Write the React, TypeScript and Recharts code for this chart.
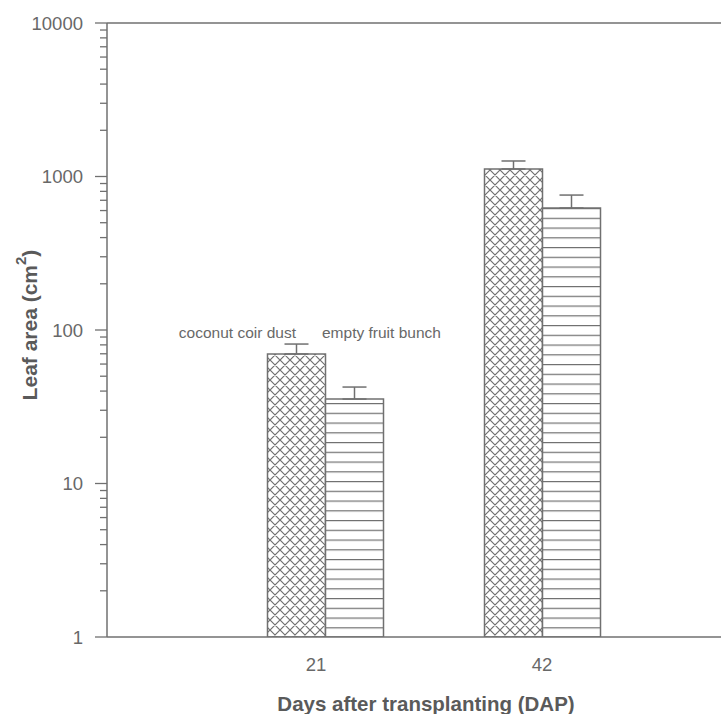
import React from "react";
import {
  BarChart,
  Bar,
  XAxis,
  YAxis,
  ErrorBar,
  ReferenceLine,
  ReferenceDot,
} from "recharts";

const categories = ["21", "42"];
const coconutCoirDust = [69.8, 1119];
const coconutCoirDustErr = [11.2, 143];
const emptyFruitBunch = [35.5, 623];
const emptyFruitBunchErr = [7, 134];

const majorTicks = [1, 10, 100, 1000, 10000];
const yTicks = [
  1, 2, 3, 4, 5, 6, 7, 8, 9,
  10, 20, 30, 40, 50, 60, 70, 80, 90,
  100, 200, 300, 400, 500, 600, 700, 800, 900,
  1000, 2000, 3000, 4000, 5000, 6000, 7000, 8000, 9000,
  10000,
];

const data = categories.map((c, i) => ({
  day: c,
  ccd: coconutCoirDust[i],
  ccdErr: [0, coconutCoirDustErr[i]],
  efb: emptyFruitBunch[i],
  efbErr: [0, emptyFruitBunchErr[i]],
}));

const GRAY = "#707070";
const TEXT = "#686868";
const FONT = "'Liberation Sans', Arial, sans-serif";

const YTick = (props: any) => {
  const { x, y, payload } = props;
  const v = payload.value;
  const major = majorTicks.includes(v);
  return (
    <g>
      <line x1={x - (major ? 12 : 7)} x2={x} y1={y} y2={y} stroke={GRAY} strokeWidth={1.3} />
      {major && (
        <text
          x={x - 24}
          y={y}
          textAnchor="end"
          dominantBaseline="central"
          fill={TEXT}
          fontSize={18.5}
          fontFamily={FONT}
        >
          {v}
        </text>
      )}
    </g>
  );
};

const XTick = (props: any) => {
  const { x, y, payload, index } = props;
  const shift = index === 0 ? -9 : 0;
  return (
    <text
      x={x + shift}
      y={y + 11}
      textAnchor="middle"
      dominantBaseline="central"
      fill={TEXT}
      fontSize={18.5}
      fontFamily={FONT}
    >
      {payload.value}
    </text>
  );
};

export default function App() {
  return (
    <div style={{ position: "absolute", left: 0, top: 0, width: 721, height: 714, background: "#fff" }}>
      <BarChart
        width={721}
        height={714}
        data={data}
        margin={{ top: 23, right: 0, bottom: 17, left: 0 }}
        barGap={0}
        barSize={58}
      >
        <defs>
          <pattern id="cross" patternUnits="userSpaceOnUse" width="10" height="10">
            <rect width="10" height="10" fill="#fff" />
            <path d="M0,0 L10,10 M10,0 L0,10 M-1,9 L1,11 M9,-1 L11,1 M-1,1 L1,-1 M9,11 L11,9" stroke={GRAY} strokeWidth={1.2} />
          </pattern>
          <pattern id="hlines" patternUnits="userSpaceOnUse" width="10" height="9.75" y="637">
            <rect width="10" height="9.75" fill="#fff" />
            <line x1="0" x2="10" y1="0.6" y2="0.6" stroke={GRAY} strokeWidth={1.2} />
          </pattern>
        </defs>
        <XAxis
          dataKey="day"
          height={60}
          padding={{ left: 109.5, right: 70.5 }}
          tickLine={false}
          axisLine={{ stroke: GRAY, strokeWidth: 1.5 }}
          tick={<XTick />}
          tickMargin={10}
          label={{
            content: () => (
              <text
                x={426}
                y={703}
                textAnchor="middle"
                dominantBaseline="central"
                fill="#5a5a5a"
                fontSize={20.5}
                fontWeight="bold"
                fontFamily={FONT}
              >
                Days after transplanting (DAP)
              </text>
            ),
          }}
        />
        <YAxis
          scale="log"
          domain={[1, 10000]}
          allowDataOverflow
          ticks={yTicks}
          interval={0}
          width={107}
          tickSize={0}
          tickMargin={0}
          tickLine={false}
          axisLine={{ stroke: GRAY, strokeWidth: 1.5 }}
          tick={<YTick />}
          label={{
            content: () => (
              <text
                x={29}
                y={325}
                transform="rotate(-90 29 325)"
                textAnchor="middle"
                dominantBaseline="central"
                fill="#5a5a5a"
                fontSize={21}
                fontWeight="bold"
                fontFamily={FONT}
              >
                Leaf area (cm
                <tspan baselineShift="super" fontSize={15}>2</tspan>
                )
              </text>
            ),
          }}
        />
        <ReferenceLine y={10000} stroke={GRAY} strokeWidth={1.5} />
        <Bar dataKey="ccd" fill="url(#cross)" stroke={GRAY} strokeWidth={1.5} isAnimationActive={false}>
          <ErrorBar dataKey="ccdErr" width={12} stroke={GRAY} strokeWidth={1.5} direction="y" />
        </Bar>
        <Bar dataKey="efb" fill="url(#hlines)" stroke={GRAY} strokeWidth={1.5} isAnimationActive={false}>
          <ErrorBar dataKey="efbErr" width={12} stroke={GRAY} strokeWidth={1.5} direction="y" />
        </Bar>
        <ReferenceDot
          x="21"
          y={100}
          r={0}
          fill="none"
          stroke="none"
          label={{
            content: (p: any) => {
              const vb = p.viewBox || {};
              const cx = (vb.x ?? 0) + (vb.width ?? 0) / 2;
              const cy = (vb.y ?? 0) + (vb.height ?? 0) / 2;
              return (
                <g fontFamily={FONT} fontSize={15.5} fill={TEXT}>
                  <text x={cx - 29} y={cy + 2} textAnchor="end" dominantBaseline="central" fill={TEXT}>
                    coconut coir dust
                  </text>
                  <text x={cx - 3} y={cy + 2} textAnchor="start" dominantBaseline="central" fill={TEXT}>
                    empty fruit bunch
                  </text>
                </g>
              );
            },
          }}
        />
      </BarChart>
    </div>
  );
}
